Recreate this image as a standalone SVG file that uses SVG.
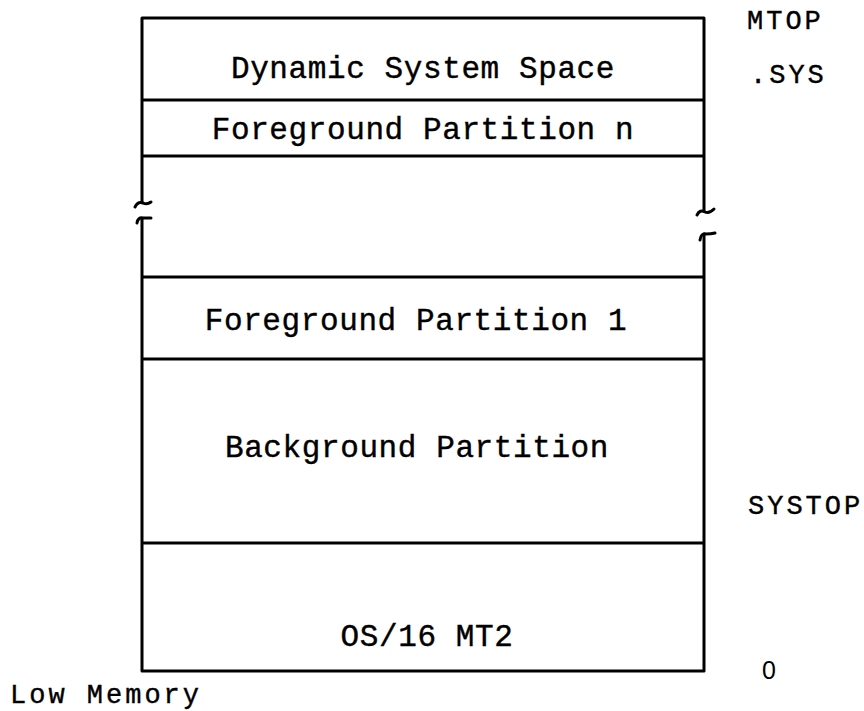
<svg xmlns="http://www.w3.org/2000/svg" width="864" height="711" viewBox="0 0 864 711">
<style>
.frame{fill:none;stroke:#000;stroke-width:3;stroke-linejoin:round;stroke-linecap:round}
.div{stroke:#000;stroke-width:3}
.box{font-family:"Liberation Mono",monospace;font-size:31px;letter-spacing:0.6px;fill:#000;stroke:#000;stroke-width:0.4;text-anchor:middle}
.lbl{font-family:"Liberation Mono",monospace;font-size:27px;letter-spacing:3px;fill:#000;stroke:#000;stroke-width:0.4}
.num{font-family:"Liberation Sans",sans-serif;font-size:25px;fill:#000}
</style>
<rect width="864" height="711" fill="#fff"/>
<g id="connectors">
<path class="frame" d="M142,202 L142,18 L704,18 L704,211"/>
<path class="frame" d="M135,207 q3,-6 8,-4 q4,2 8,-1"/>
<path class="frame" d="M697,215 q3,-6 8,-3 q4,2 9,-3"/>
<path class="frame" d="M137,223 q1,-6 6,-5 q4,0 8,0"/>
<path class="frame" d="M700,240 q1,-7 6,-6 q5,0 9,-1"/>
<path class="frame" d="M142,219 L142,671 L704,671 L704,234"/>
</g>
<g id="dynamic-system-space">
<text class="box" x="423" y="78">Dynamic System Space</text>
</g>
<g id="foreground-partition-n">
<line class="div" x1="142" y1="100" x2="704" y2="100"/>
<text class="box" x="423" y="139">Foreground Partition n</text>
<line class="div" x1="142" y1="156" x2="704" y2="156"/>
</g>
<g id="foreground-partition-1">
<line class="div" x1="142" y1="277" x2="704" y2="277"/>
<text class="box" x="416" y="330">Foreground Partition 1</text>
<line class="div" x1="142" y1="359" x2="704" y2="359"/>
</g>
<g id="background-partition">
<text class="box" x="417" y="457">Background Partition</text>
<line class="div" x1="142" y1="543" x2="704" y2="543"/>
</g>
<g id="os16-mt2">
<text class="box" x="427" y="646">OS/16 MT2</text>
</g>
<g id="labels">
<text class="lbl" x="747" y="29">MTOP</text>
<text class="lbl" x="750" y="83">.SYS</text>
<text class="lbl" x="748" y="514">SYSTOP</text>
<text class="num" x="762" y="679">0</text>
<text class="lbl" x="10" y="703">Low Memory</text>
</g>
</svg>
